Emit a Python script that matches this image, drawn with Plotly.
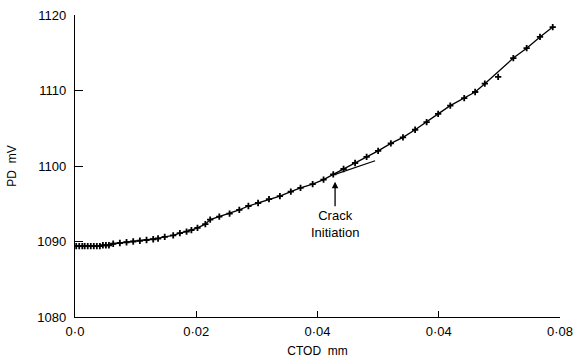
import plotly.graph_objects as go

# CTOD (mm) and PD (mV) readings on the fitted curve
ctod = [0.0002, 0.0007, 0.0012, 0.0016, 0.0021, 0.0026, 0.0031, 0.0036, 0.0041, 0.0046,
        0.0051, 0.0056, 0.0063, 0.0074, 0.0085, 0.0096, 0.0107, 0.0118, 0.0129, 0.0137,
        0.0148, 0.0162, 0.0173, 0.0184, 0.0192, 0.0202, 0.0215, 0.0223, 0.0238, 0.0255,
        0.0271, 0.0286, 0.0302, 0.0320, 0.0338, 0.0356, 0.0372, 0.0392, 0.0410, 0.0426,
        0.0443, 0.0462, 0.0481, 0.0500, 0.0521, 0.0541, 0.0561, 0.0580, 0.0599, 0.0619,
        0.0642, 0.0660, 0.0676, 0.0723, 0.0745, 0.0767, 0.0788]
pd_mv = [1089.4, 1089.4, 1089.4, 1089.4, 1089.4, 1089.4, 1089.4, 1089.4, 1089.4, 1089.5,
         1089.5, 1089.5, 1089.7, 1089.8, 1089.9, 1090.0, 1090.1, 1090.2, 1090.3, 1090.4,
         1090.6, 1090.8, 1091.1, 1091.3, 1091.5, 1091.8, 1092.3, 1092.9, 1093.3, 1093.7,
         1094.2, 1094.7, 1095.1, 1095.6, 1096.0, 1096.6, 1097.1, 1097.6, 1098.2, 1098.9,
         1099.6, 1100.4, 1101.2, 1102.0, 1103.0, 1103.8, 1104.8, 1105.8, 1106.9, 1108.0,
         1109.0, 1109.8, 1110.9, 1114.3, 1115.6, 1117.1, 1118.4]

# reading off the curve
out_x = [0.0698]
out_y = [1111.8]

# tangent line at crack initiation
tan_x = [0.0429, 0.0495]
tan_y = [1098.9, 1100.7]

xtick_vals = [0.0, 0.02, 0.04, 0.06, 0.08]
xtick_text = ["0·0", "0·02", "0·04", "0·04", "0·08"]
ytick_vals = [1080, 1090, 1100, 1110, 1120]
ytick_text = ["1080", "1090", "1100", "1110", "1120"]

FONT = "Liberation Sans, Arial, sans-serif"
MARKER = dict(symbol="cross-thin", size=4.5, line=dict(color="black", width=1.8))

fig = go.Figure()
fig.add_trace(go.Scatter(
    x=ctod, y=pd_mv, mode="lines+markers",
    line=dict(color="black", width=1.3), marker=MARKER,
    showlegend=False, hoverinfo="skip"))
fig.add_trace(go.Scatter(x=out_x, y=out_y, mode="markers", marker=MARKER,
                         showlegend=False, hoverinfo="skip"))
fig.add_trace(go.Scatter(x=tan_x, y=tan_y, mode="lines",
                         line=dict(color="black", width=1.2), showlegend=False))

fig.add_annotation(x=0.0429, y=1097.9, xref="x", yref="y",
                   text="Crack<br>Initiation", showarrow=True,
                   ax=0, ay=42, arrowhead=2, arrowsize=1, arrowwidth=1.3,
                   arrowcolor="black", standoff=0,
                   font=dict(family=FONT, size=13, color="black"))

fig.update_layout(
    width=576, height=358,
    margin=dict(l=75, r=16, t=15, b=41, autoexpand=False),
    paper_bgcolor="white", plot_bgcolor="white",
    font=dict(family=FONT, size=13, color="black"),
    xaxis=dict(range=[0, 0.08], tickvals=xtick_vals, ticktext=xtick_text,
               automargin=False,
               showgrid=False, zeroline=False, showline=True, linecolor="black",
               linewidth=1.3, ticks="inside", ticklen=6, tickcolor="black",
               tickwidth=1.3, ticklabelstandoff=2,
               title=dict(text="CTOD  mm", standoff=14, font=dict(size=12))),
    yaxis=dict(range=[1080, 1120], tickvals=ytick_vals, ticktext=ytick_text,
               automargin=False,
               showgrid=False, zeroline=False, showline=True, linecolor="black",
               linewidth=1.3, ticks="inside", ticklen=8, tickcolor="black",
               tickwidth=1.3, ticklabelstandoff=5,
               title=dict(text="PD  mV", standoff=18, font=dict(size=12))),
)

fig.write_html("out.html")
